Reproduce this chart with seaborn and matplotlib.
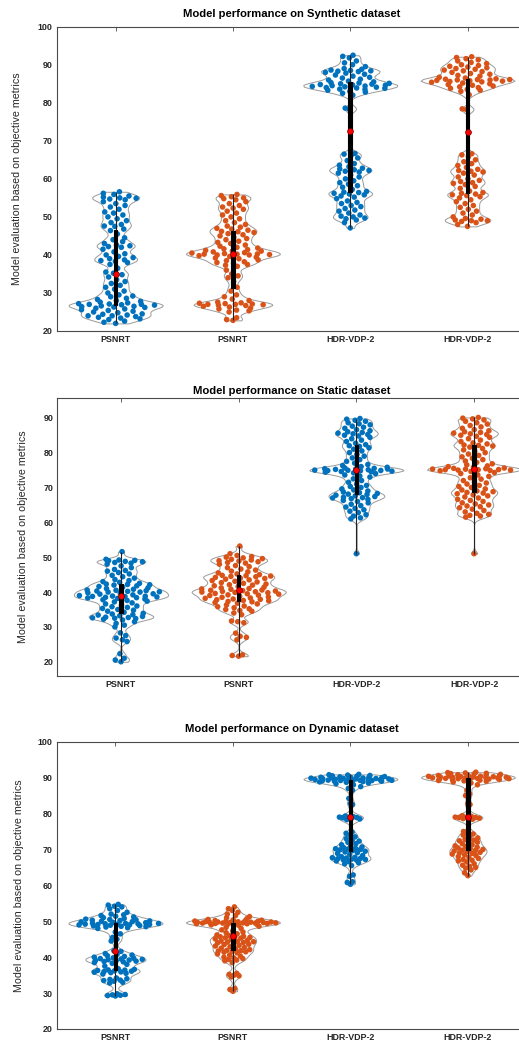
import numpy as np
import pandas as pd
import matplotlib
matplotlib.use("Agg")
import matplotlib.pyplot as plt
import seaborn as sns

# ---------------- data ----------------
TICK_LABELS = ["PSNRT", "PSNRT", "HDR-VDP-2", "HDR-VDP-2"]
GROUP_KEYS = ["PSNRT (A)", "PSNRT (B)", "HDR-VDP-2 (A)", "HDR-VDP-2 (B)"]
TITLES = ["Model performance on Synthetic dataset",
          "Model performance on Static dataset",
          "Model performance on Dynamic dataset"]
YLABEL = "Model evaluation based on objective metrics"

syn_psnrt_a = [22.0, 22.3, 22.6, 23.0, 23.2, 23.4, 23.6, 23.8, 24.0, 24.0, 24.2, 24.4, 24.5, 24.8, 25.0, 25.2, 25.4, 25.6, 25.8, 26.0, 26.2, 26.3, 26.4, 26.5, 26.6,
               26.8, 26.9, 27.0, 27.0, 27.1, 27.2, 27.4, 27.6, 27.8, 28.0, 28.3, 28.6, 29.0, 29.2, 29.5, 30.0, 30.5, 31.0, 31.5, 32.0, 32.5, 33.0, 33.5, 34.2, 34.8,
               35.2, 35.5, 36.5, 37.5, 38.0, 38.3, 38.5, 38.7, 39.0, 39.3, 39.6, 40.0, 40.3, 40.8, 41.5, 42.0, 42.2, 42.4, 42.6, 43.0, 43.5, 44.0, 44.5, 45.5, 46.4,
               46.8, 47.5, 47.6, 48.0, 48.5, 49.0, 49.5, 50.0, 50.5, 51.0, 51.3, 52.0, 52.6, 53.0, 53.5, 54.0, 54.5, 54.7, 54.9, 55.0, 55.2, 55.5, 55.9, 56.2, 56.6]
syn_psnrt_b = [22.8, 23.0, 23.5, 25.0, 25.3, 25.5, 25.8, 26.0, 26.3, 26.5, 26.7, 26.8, 26.9, 27.0, 27.0, 27.1, 27.2, 27.3, 27.4, 27.6, 28.0, 28.4, 29.0, 29.5, 30.5,
               31.5, 33.0, 34.0, 34.5, 35.0, 36.0, 37.0, 37.3, 37.5, 37.8, 38.0, 38.2, 38.5, 38.7, 39.0, 39.2, 39.4, 39.6, 39.8, 40.0, 40.0, 40.1, 40.2, 40.2, 40.25,
               40.35, 40.5, 40.6, 40.8, 41.0, 41.0, 41.2, 41.4, 41.6, 41.8, 42.0, 42.3, 42.6, 43.0, 43.3, 43.6, 44.0, 44.3, 44.6, 45.0, 45.3, 45.6, 45.9, 46.1, 46.2,
               46.5, 46.8, 47.0, 47.3, 47.6, 48.0, 48.5, 49.0, 49.5, 50.0, 50.5, 51.0, 51.5, 52.0, 52.3, 52.6, 53.0, 53.5, 54.0, 54.5, 54.8, 55.0, 55.3, 55.6, 55.9]
syn_hdr_a = [47.1, 48.5, 49.2, 49.5, 49.7, 50.0, 50.2, 50.5, 51.0, 51.5, 51.8, 52.2, 52.7, 53.0, 53.5, 53.8, 54.2, 54.8, 55.2, 55.5, 55.8, 56.0, 56.2, 56.4, 56.5,
             56.7, 57.2, 57.8, 58.2, 58.6, 59.0, 59.5, 60.0, 60.5, 61.0, 61.5, 61.8, 62.0, 62.2, 62.4, 62.6, 62.8, 63.2, 63.6, 64.0, 64.8, 65.5, 66.2, 66.5, 66.7,
             78.3, 78.6,
             82.0, 82.5, 82.8, 83.0, 83.3, 83.5, 83.6, 83.8, 83.9, 84.0, 84.1, 84.2, 84.3, 84.4, 84.5, 84.6, 84.7, 84.8, 84.9, 85.0, 85.1, 85.2, 85.3, 85.5,
             85.7, 86.0, 86.2, 86.5, 86.7, 87.0, 87.3, 87.5, 87.8, 88.0, 88.2, 88.3, 88.4, 88.5, 88.6, 88.8, 89.0, 89.5, 90.0, 90.5, 91.0, 91.8, 92.2, 92.5]
syn_hdr_b = [47.5, 48.0, 48.5, 48.8, 49.0, 49.0, 49.2, 49.4, 49.6, 50.0, 50.5, 51.0, 51.5, 52.0, 52.5, 53.0, 53.5, 54.0, 54.5, 55.0, 55.3, 55.6, 55.8, 56.0, 56.2,
             56.4, 56.8, 57.5, 58.0, 58.5, 58.8, 59.0, 59.3, 59.6, 60.0, 60.5, 61.0, 61.5, 61.8, 62.0, 62.2, 62.5, 63.0, 63.5, 64.0, 64.5, 65.0, 65.8, 66.3, 66.6,
             78.2, 78.4,
             82.1, 83.0, 83.3, 83.5, 83.8, 84.0, 84.2, 84.4, 84.6, 84.8, 85.0, 85.2, 85.4, 85.5, 85.6, 85.7, 85.8, 85.9, 86.0, 86.0, 86.1, 86.1, 86.2, 86.3,
             86.5, 86.7, 87.0, 87.2, 87.5, 87.7, 88.0, 88.2, 88.4, 88.6, 88.8, 89.0, 89.2, 89.4, 89.6, 89.8, 90.0, 90.3, 90.6, 91.0, 91.3, 91.6, 91.9, 92.1]

sta_psnrt_a = [20.0, 20.5, 21.0, 22.3, 25.8, 26.3, 26.8, 27.5, 28.3, 30.0, 30.5, 31.0, 31.5, 32.0, 32.2, 32.4, 32.5, 32.6, 32.7, 32.8, 33.0, 33.2, 33.4, 33.5, 33.7,
               33.9, 34.2, 34.5, 34.8, 35.0, 35.3, 35.6, 35.8, 36.0, 36.3, 36.6, 36.9, 37.2, 37.4, 37.6, 37.8, 38.0, 38.2, 38.3, 38.4, 38.5, 38.6, 38.7, 38.75, 38.8,
               38.85, 39.0, 39.2, 39.4, 39.5, 39.7, 39.8, 40.0, 40.0, 40.1, 40.2, 40.3, 40.4, 40.5, 40.6, 40.8, 41.0, 41.2, 41.4, 41.6, 41.8, 42.0, 42.1, 42.2, 42.3,
               42.5, 42.8, 43.0, 43.3, 43.6, 44.0, 44.4, 44.8, 45.2, 45.6, 46.0, 46.2, 46.5, 47.0, 47.5, 48.0, 48.3, 48.5, 48.7, 48.8, 49.0, 49.1, 49.2, 49.4, 51.6]
sta_psnrt_b = [21.6, 21.8, 22.0, 26.3, 27.0, 27.3, 28.2, 31.2, 31.5, 31.7, 33.5, 34.0, 34.5, 34.7, 35.0, 35.2, 35.5, 35.8, 36.0, 36.3, 36.6, 36.8, 37.0, 37.2, 37.3,
               37.5, 37.6, 37.8, 37.9, 38.0, 38.2, 38.3, 38.5, 38.6, 38.8, 39.0, 39.1, 39.2, 39.4, 39.5, 39.6, 39.8, 39.9, 40.0, 40.1, 40.2, 40.3, 40.4, 40.5, 40.6,
               40.8, 40.9, 41.0, 41.2, 41.4, 41.6, 41.8, 42.0, 42.1, 42.3, 42.5, 42.7, 42.9, 43.1, 43.3, 43.5, 43.7, 43.9, 44.0, 44.2, 44.4, 44.5, 44.6, 44.7, 44.8,
               45.0, 45.2, 45.5, 45.8, 46.0, 46.3, 46.6, 47.0, 47.3, 47.6, 48.0, 48.3, 48.5, 48.7, 48.9, 49.0, 49.2, 49.4, 49.6, 49.8, 50.0, 50.2, 50.5, 51.0, 53.2]
sta_hdr_a = [51.0, 61.0, 61.3, 61.8, 62.2, 62.8, 63.2, 63.6, 64.0, 64.4, 64.8, 65.2, 65.6, 66.0, 66.3, 66.6, 66.8, 67.0, 67.1, 67.2, 67.4, 67.6, 67.8, 68.0, 68.1,
             68.3, 68.5, 68.7, 69.0, 69.3, 69.6, 70.0, 70.3, 70.6, 71.0, 71.5, 72.0, 72.5, 73.0, 73.3, 73.6, 74.0, 74.2, 74.4, 74.5, 74.6, 74.7, 74.8, 74.85, 74.9,
             74.95, 75.0, 75.1, 75.2, 75.3, 75.3, 75.4, 75.5, 75.6, 75.8, 76.0, 76.3, 76.6, 77.0, 77.5, 78.0, 78.5, 79.0, 79.5, 80.0, 80.5, 81.0, 81.4, 81.8, 82.0,
             82.3, 82.7, 83.2, 83.6, 84.0, 84.4, 84.8, 85.0, 85.2, 85.4, 85.6, 85.8, 86.0, 86.3, 86.6, 87.0, 87.3, 87.6, 88.0, 88.3, 88.6, 89.0, 89.3, 89.6, 89.8]
sta_hdr_b = [51.0, 61.5, 61.8, 62.0, 62.3, 62.6, 63.0, 63.4, 63.8, 64.2, 64.5, 64.7, 65.0, 65.3, 65.6, 66.0, 66.3, 66.6, 67.0, 67.3, 67.6, 67.9, 68.2, 68.4, 68.6,
             68.8, 69.0, 69.3, 69.6, 70.0, 70.3, 70.6, 71.0, 71.3, 71.6, 72.0, 72.4, 72.8, 73.2, 73.6, 74.0, 74.3, 74.6, 74.8, 74.9, 75.0, 75.0, 75.1, 75.1, 75.15,
             75.25, 75.3, 75.4, 75.5, 75.6, 75.8, 76.0, 76.2, 76.5, 76.8, 77.2, 77.6, 78.0, 78.4, 78.8, 79.2, 79.6, 80.0, 80.4, 80.8, 81.2, 81.6, 81.9, 82.1, 82.2,
             82.5, 82.8, 83.2, 83.6, 84.0, 84.4, 84.7, 85.0, 85.2, 85.4, 85.6, 85.8, 86.0, 86.3, 86.6, 87.0, 87.4, 87.8, 88.2, 88.6, 89.0, 89.4, 89.7, 89.9, 90.1]

dyn_psnrt_a = [29.2, 29.3, 29.4, 29.5, 29.6, 29.8, 32.8, 33.0, 33.3, 33.5, 33.6, 33.8, 34.0, 34.2, 35.3, 35.5, 35.7, 35.8, 35.9, 36.0, 36.1, 36.2, 36.3, 36.4, 36.45,
               36.6, 36.8, 37.5, 38.0, 38.3, 38.5, 38.7, 38.8, 38.9, 39.0, 39.1, 39.2, 39.3, 39.4, 39.5, 39.6, 39.7, 39.8, 40.0, 40.2, 40.4, 40.6, 40.8, 41.0, 41.6,
               41.8, 44.5, 45.0, 45.5, 46.5, 47.0, 48.0, 48.2, 48.4, 48.5, 48.6, 48.7, 48.8, 48.9, 49.0, 49.0, 49.1, 49.1, 49.2, 49.2, 49.3, 49.3, 49.4, 49.4, 49.45,
               49.6, 49.7, 49.8, 49.9, 50.0, 50.1, 50.2, 50.3, 50.4, 50.5, 50.6, 50.8, 51.0, 51.2, 51.4, 51.6, 51.8, 52.0, 52.5, 53.0, 53.5, 54.0, 54.2, 54.5, 54.7]
dyn_psnrt_b = [30.5, 31.0, 31.3, 34.5, 34.8, 35.0, 35.2, 35.5, 38.5, 39.0, 39.2, 39.4, 39.6, 39.8, 40.0, 40.3, 40.6, 40.9, 41.2, 41.4, 41.5, 41.6, 41.7, 41.8, 41.9,
               42.1, 42.3, 42.5, 42.7, 42.9, 43.1, 43.3, 43.5, 43.6, 43.8, 44.0, 44.1, 44.2, 44.3, 44.4, 44.5, 44.7, 44.9, 45.1, 45.3, 45.4, 45.5, 45.6, 45.7, 45.8,
               46.0, 46.2, 46.5, 46.8, 47.0, 47.3, 47.6, 48.0, 48.3, 48.6, 48.9, 49.0, 49.1, 49.2, 49.3, 49.3, 49.4, 49.4, 49.45, 49.5, 49.5, 49.5, 49.55, 49.55, 49.6,
               49.65, 49.7, 49.7, 49.75, 49.8, 49.8, 49.85, 49.9, 49.95, 50.0, 50.05, 50.1, 50.2, 50.3, 50.4, 50.5, 50.7, 51.0, 51.3, 51.6, 52.0, 52.5, 53.0, 53.5, 54.0]
dyn_hdr_a = [60.3, 60.8, 61.0, 62.5, 62.9, 65.5, 66.0, 66.3, 66.6, 66.8, 67.0, 67.1, 67.2, 67.3, 67.4, 67.5, 67.6, 67.7, 67.8, 68.0, 68.3, 68.6, 68.9, 69.1, 69.3,
             69.5, 69.7, 69.9, 70.0, 70.1, 70.2, 70.3, 70.5, 70.7, 71.0, 71.3, 71.6, 72.0, 72.3, 72.6, 73.0, 73.5, 74.0, 74.5, 74.8, 78.3, 78.5, 78.7, 78.8, 78.85,
             78.95, 79.0, 79.1, 79.3, 82.5, 82.8, 84.2, 86.5, 87.0, 87.5, 88.0, 88.3, 88.5, 88.7, 88.8, 88.9, 89.0, 89.0, 89.1, 89.1, 89.2, 89.2, 89.25, 89.25, 89.3,
             89.35, 89.4, 89.45, 89.5, 89.55, 89.6, 89.65, 89.7, 89.75, 89.8, 89.85, 89.9, 89.95, 90.0, 90.05, 90.1, 90.15, 90.2, 90.3, 90.4, 90.5, 90.6, 90.7, 90.8, 90.9]
dyn_hdr_b = [62.7, 63.5, 64.3, 64.8, 65.0, 65.3, 65.6, 66.0, 66.5, 66.8, 67.0, 67.2, 67.5, 67.8, 68.0, 68.3, 68.5, 68.7, 68.9, 69.0, 69.2, 69.4, 69.6, 69.7, 69.8,
             70.0, 70.2, 70.4, 70.6, 70.8, 71.0, 71.3, 71.6, 72.0, 72.2, 72.4, 72.6, 72.8, 73.2, 73.6, 74.0, 74.3, 74.6, 75.0, 78.4, 78.6, 78.7, 78.8, 78.85, 78.9,
             78.95, 79.0, 79.2, 79.4, 82.5, 82.8, 85.0, 85.5, 86.5, 88.0, 88.5, 88.8, 89.0, 89.1, 89.2, 89.3, 89.4, 89.5, 89.5, 89.6, 89.6, 89.7, 89.7, 89.75, 89.8,
             89.85, 89.9, 89.95, 90.0, 90.05, 90.1, 90.15, 90.2, 90.25, 90.3, 90.35, 90.4, 90.45, 90.5, 90.55, 90.6, 90.7, 90.8, 90.9, 91.0, 91.1, 91.2, 91.3, 91.4, 91.5]

PANEL_DATA = [
    [syn_psnrt_a, syn_psnrt_b, syn_hdr_a, syn_hdr_b],
    [sta_psnrt_a, sta_psnrt_b, sta_hdr_a, sta_hdr_b],
    [dyn_psnrt_a, dyn_psnrt_b, dyn_hdr_a, dyn_hdr_b],
]
YLIMS = [(20, 100), (16, 95.6), (20, 100)]
YTICKS = [list(range(20, 101, 10)), list(range(20, 91, 10)), list(range(20, 101, 10))]

# ---------------- style ----------------
BLUE = "#0072BD"
ORANGE = "#D95319"
POINT_COLORS = [BLUE, ORANGE, BLUE, ORANGE]
VIOLIN_EDGE = "#9a9a9a"
AXIS_COLOR = "#4a4a4a"
TEXT_COLOR = "#262626"
BANDWIDTHS = [0.75, 0.75, 0.9]   # absolute kernel bandwidth per panel (data units)
VWIDTH = 0.8

sns.set_style("white")
plt.rcParams["font.family"] = ["Liberation Sans", "DejaVu Sans"]

W, H = 519, 1044
fig = plt.figure(figsize=(W / 100, H / 100), dpi=100)

# axes rectangles in pixels: (left, top, bottom, xlim, px per category)
AX_PX = [
    (57.0, 26.7, 331.0, (-0.5, 3.5), 117.3),
    (57.3, 398.3, 675.7, (-0.541, 3.54), 117.7),
    (56.7, 741.7, 1029.0, (-0.5, 3.5), 117.5),
]
TITLE_X = [0.5, 0.488, 0.5]
TITLE_PAD = [7, 3, 7]
YLABEL_X = [-0.0746, -0.061, -0.0696]


def kde_curve(vals, grid, bw):
    vals = np.asarray(vals, float)
    z = (grid[:, None] - vals[None, :]) / bw
    return np.exp(-0.5 * z ** 2).sum(axis=1)


golden = 0.6180339887

for p in range(3):
    left, top, bottom, xlim, upx = AX_PX[p]
    bw = BANDWIDTHS[p]
    width_px = (xlim[1] - xlim[0]) * upx
    ax = fig.add_axes([left / W, 1 - bottom / H, width_px / W, (bottom - top) / H])

    groups = PANEL_DATA[p]
    df = pd.DataFrame({
        "group": np.concatenate([[k] * len(v) for k, v in zip(GROUP_KEYS, groups)]),
        "value": np.concatenate([np.asarray(v, float) for v in groups]),
    })

    # violins (one call each so every violin gets the same absolute bandwidth)
    for k, v in zip(GROUP_KEYS, groups):
        sub = df[df["group"] == k]
        sd = np.std(np.asarray(v, float), ddof=1)
        n = len(v)
        bw_factor = bw / sd
        sns.violinplot(data=sub, x="group", y="value", order=GROUP_KEYS,
                       color="white", linecolor=VIOLIN_EDGE, linewidth=0.7,
                       inner=None, cut=0, bw_method=bw_factor, density_norm="width",
                       width=VWIDTH, saturation=1, ax=ax)

    # jittered points, spread according to the violin's density
    xs = []
    for i, v in enumerate(groups):
        v = np.asarray(v, float)
        grid = np.linspace(v.min(), v.max(), 200)
        dmax = kde_curve(v, grid, bw).max()
        dens = kde_curve(v, v, bw) / dmax
        u = np.array([((0.5 + j * golden) % 1.0) * 2 - 1 for j in range(len(v))])
        xs.append(i + u * dens * VWIDTH / 2 * 0.92)
    df["xpos"] = np.concatenate(xs)
    sns.scatterplot(data=df, x="xpos", y="value", hue="group", hue_order=GROUP_KEYS,
                    palette=dict(zip(GROUP_KEYS, POINT_COLORS)), s=16, linewidth=0,
                    legend=False, ax=ax, zorder=2)

    # quartile bar + min/max line
    sns.boxplot(data=df, x="group", y="value", order=GROUP_KEYS, width=0.03,
                whis=(0, 100), showfliers=False, showcaps=False, color="black",
                linecolor="black", linewidth=0.8, saturation=1,
                whiskerprops={"color": "#222222", "linewidth": 0.8},
                medianprops={"visible": False}, ax=ax)
    for patch in ax.patches[-4:]:
        patch.set_zorder(3)
    for line in ax.lines:
        line.set_zorder(3)

    # median dot
    sns.pointplot(data=df, x="group", y="value", order=GROUP_KEYS, estimator="median",
                  errorbar=None, color="red", markers="o", linestyle="none",
                  markersize=4.2, markeredgecolor="#700000", markeredgewidth=0.5,
                  ax=ax, zorder=5)

    ax.set_xlim(*xlim)
    ax.set_ylim(*YLIMS[p])
    ax.set_xticks(range(4))
    ax.set_xticklabels(TICK_LABELS)
    ax.set_yticks(YTICKS[p])
    ax.set_xlabel("")
    ax.set_ylabel(YLABEL, fontsize=7.7, color=TEXT_COLOR)
    ax.yaxis.set_label_coords(YLABEL_X[p], 0.5)
    ax.set_title(TITLES[p], fontsize=8.1, fontweight="bold", color="black",
                 x=TITLE_X[p], pad=TITLE_PAD[p])
    ax.tick_params(axis="both", direction="in", length=3, width=0.6,
                   colors=AXIS_COLOR, labelcolor=TEXT_COLOR, labelsize=6.4,
                   top=True, right=True, pad=3)
    for lab in ax.get_xticklabels() + ax.get_yticklabels():
        lab.set_fontweight("bold")
    for sp in ax.spines.values():
        sp.set_color(AXIS_COLOR)
        sp.set_linewidth(0.8)
    ax.grid(False)

fig.savefig("out.png", dpi=100)
